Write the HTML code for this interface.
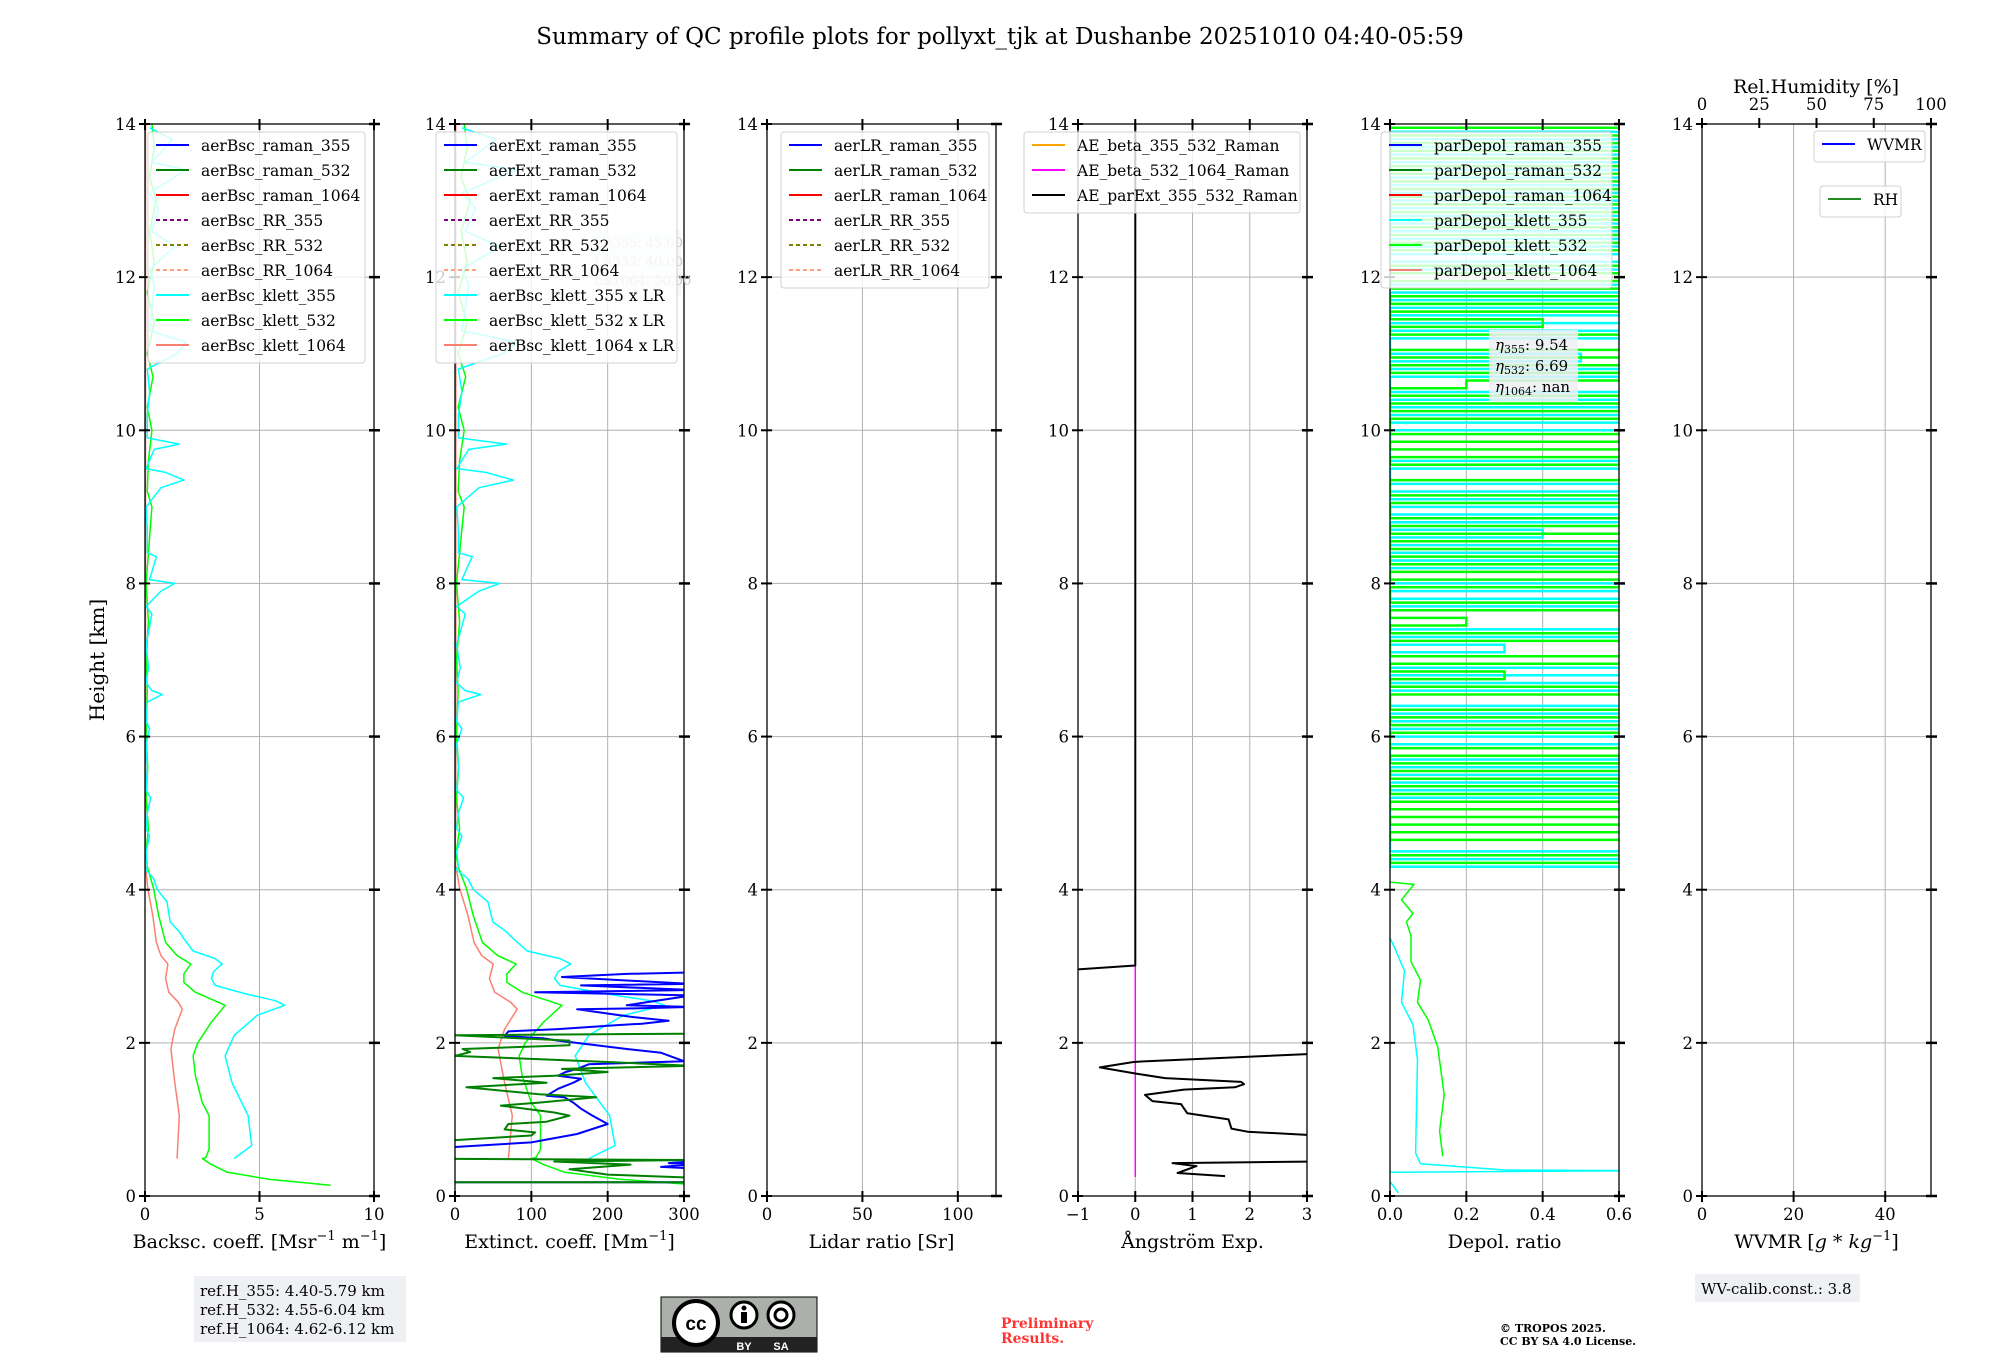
<!DOCTYPE html>
<html><head><meta charset="utf-8"><style>
html,body{margin:0;padding:0;background:#fff;}
svg{display:block;font-family:"DejaVu Serif","Liberation Serif",serif;}
</style></head><body>
<svg id="fig" width="2000" height="1360" viewBox="0 0 2000 1360" xmlns="http://www.w3.org/2000/svg">
<text x="1000" y="44" font-size="23" text-anchor="middle">Summary of QC profile plots for pollyxt_tjk at Dushanbe 20251010 04:40-05:59</text>
<text transform="translate(104,660) rotate(-90)" font-size="20" text-anchor="middle">Height [km]</text>
<g id="panels"></g>
<g>
<rect x="194" y="1276" width="212" height="66" fill="#eef0f4"/>
<text x="200" y="1296" font-size="15">ref.H_355: 4.40-5.79 km</text>
<text x="200" y="1315" font-size="15">ref.H_532: 4.55-6.04 km</text>
<text x="200" y="1334" font-size="15">ref.H_1064: 4.62-6.12 km</text>
</g>
<g>
<rect x="661" y="1297" width="156" height="55" fill="#abb1aa" stroke="#000" stroke-width="1"/>
<rect x="661" y="1337" width="156" height="15" fill="#222"/>
<circle cx="696" cy="1323" r="22" fill="#fff" stroke="#000" stroke-width="4"/>
<text x="696" y="1330" font-size="19" font-weight="bold" text-anchor="middle" font-family="Liberation Sans,sans-serif">cc</text>
<circle cx="744" cy="1315" r="13" fill="#fff" stroke="#000" stroke-width="3"/>
<rect x="741" y="1312" width="6" height="11" fill="#000"/><circle cx="744" cy="1308" r="2.5" fill="#000"/>
<circle cx="781" cy="1315" r="13" fill="#fff" stroke="#000" stroke-width="3"/>
<circle cx="781" cy="1315" r="6" fill="none" stroke="#000" stroke-width="3"/>
<text x="744" y="1350" font-size="11" fill="#fff" text-anchor="middle" font-family="Liberation Sans,sans-serif" font-weight="bold">BY</text>
<text x="781" y="1350" font-size="11" fill="#fff" text-anchor="middle" font-family="Liberation Sans,sans-serif" font-weight="bold">SA</text>
</g>
<g fill="#ff3333" font-size="14" font-weight="bold">
<text x="1001" y="1328">Preliminary</text><text x="1001" y="1343">Results.</text>
</g>
<g font-size="11" font-weight="bold">
<text x="1500" y="1332">© TROPOS 2025.</text><text x="1500" y="1345">CC BY SA 4.0 License.</text>
</g>
<g>
<rect x="1695" y="1274" width="165" height="28" fill="#eef0f4"/>
<text x="1701" y="1294" font-size="15">WV-calib.const.: 3.8</text>
</g>
</svg>
<script>
// ---------- data ----------
const kH355=[0.49,0.66,1.05,1.48,1.83,2.1,2.36,2.49,2.55,2.64,2.75,2.84,2.93,3.03,3.1,3.2,3.36,3.45,3.58,3.84,4.0,4.15,4.26,4.3,4.5,4.7,4.8,5.0,5.2,5.3,5.6,5.9,6.1,6.2,6.45,6.55,6.6,6.7,6.9,7.2,7.6,7.7,7.9,8.0,8.05,8.35,8.4,8.7,9.0,9.25,9.35,9.45,9.5,9.75,9.82,9.9,10.2,10.5,10.8,11.0,11.15,11.3,11.6,11.9,12.1,12.4,12.6,12.9,13.1,13.4,13.5,13.8,13.95];
const kB355=[3.9,4.66,4.5,3.8,3.5,3.9,4.9,6.1,5.7,4.4,3.06,2.9,3.0,3.37,3.06,2.1,1.7,1.5,1.1,0.96,0.54,0.37,0.03,0.1,0.05,0.2,0.05,0.1,0.25,0.05,0.1,0.05,0.2,0.05,0.1,0.75,0.3,0.05,0.15,0.05,0.3,0.05,0.7,1.3,0.2,0.5,0.1,0.1,0.05,0.7,1.7,0.9,0.05,0.4,1.5,0.1,0.1,0.2,0.1,1.4,1.8,0.2,0.3,0.4,0.2,1.3,0.3,0.6,0.2,1.8,0.3,1.2,0.2];
const kH532=[0.14,0.22,0.31,0.41,0.49,0.5,0.61,1.05,1.22,1.57,1.83,2.0,2.27,2.49,2.55,2.66,2.79,2.9,3.03,3.14,3.31,3.66,4.02,4.28,4.45,4.8,5.2,5.6,6.0,6.6,7.0,7.5,8.0,8.6,9.0,9.2,9.6,10.0,10.3,10.7,11.0,11.4,11.8,12.2,12.6,13.0,13.3,13.7,14.0];
const kB532=[8.1,5.4,3.6,2.9,2.5,2.65,2.8,2.8,2.5,2.2,2.1,2.3,2.9,3.5,3.05,2.2,1.7,1.7,2.0,1.4,0.9,0.6,0.37,0.12,0.03,0.15,0.05,0.12,0.05,0.1,0.05,0.15,0.05,0.2,0.3,0.1,0.15,0.3,0.1,0.35,0.1,0.4,0.1,0.4,0.2,0.5,0.2,0.4,0.3];
const kH1064=[0.49,1.05,1.48,1.92,2.18,2.44,2.53,2.66,2.84,3.03,3.14,3.31,3.66,4.02,4.37,5.0,14.0];
const kB1064=[1.4,1.5,1.3,1.13,1.3,1.63,1.46,1.04,0.9,1.0,0.7,0.5,0.34,0.12,0.0,0.02,0.02];
const lr355=45, lr532=40, lr1064=50;
const extH355=[0.18,0.18,null,0.36,0.38,0.41,0.43,0.45,null,0.64,0.70,0.81,0.94,1.05,1.14,1.22,1.29,1.31,1.40,1.48,1.53,1.57,1.62,1.66,1.72,1.76,1.87,1.92,1.97,2.03,2.06,2.09,2.15,2.18,2.23,2.25,2.29,2.34,2.44,2.45,2.47,2.49,2.62,2.66,2.69,2.75,2.77,2.86,2.90,2.92];
const extV355=[0,310,null,310,270,310,280,310,null,0,100,160,200,180,165,155,143,120,135,155,165,135,145,160,175,300,270,225,185,135,115,65,70,135,210,245,280,230,160,235,310,225,310,105,310,165,310,140,225,310];
const extH532=[0.18,0.18,null,0.24,0.28,0.35,0.41,0.45,0.47,0.485,null,0.73,0.79,0.83,0.87,0.94,0.97,1.05,1.09,1.18,1.22,1.29,1.33,1.42,1.48,1.54,1.57,1.62,1.66,1.70,1.75,1.79,1.83,1.88,1.92,1.97,2.03,2.10,2.12];
const extV532=[0,310,null,310,200,150,230,130,310,0,null,0,100,105,65,70,120,150,130,60,110,185,110,15,120,50,130,200,140,310,200,100,0,20,10,150,150,0,310];
const aeH=[14,3.01,2.95,null,1.86,1.76,1.75,1.68,1.6,1.54,1.49,1.46,1.42,1.39,1.32,1.24,1.2,1.08,1.0,0.88,0.84,0.79,null,0.45,0.43,0.39,0.3,0.26];
const aeV=[0,0,-1.2,null,3.2,0.2,-0.03,-0.62,0,0.52,1.85,1.9,1.74,0.85,0.17,0.3,0.8,0.91,1.63,1.68,1.96,3.2,null,3.2,0.65,1.07,0.74,1.57];
const aeBH=[3.0,0.25];
const aeBV=[0,0];
const dpH532=[0.52,0.85,1.32,1.95,2.3,2.53,2.82,3.06,3.4,3.58,3.69,3.87,4.07,4.1];
const dpV532=[0.138,0.13,0.142,0.125,0.1,0.072,0.08,0.055,0.055,0.043,0.06,0.03,0.063,0];
const dpH355=[0.04,0.19,null,0.31,0.33,0.34,0.42,0.56,1.78,2.24,2.53,2.94,3.23,3.37];
const dpV355=[0.022,0,null,0,0.65,0.3,0.08,0.067,0.072,0.06,0.03,0.038,0.013,0];
const dpUpperStart=4.2, dpUpperStep=0.1;
const dpUp355=[0.9,0,0.9,0,0,0,0,0,0,0, 0.9,0,0.9,0,0.9,0,0,0.9,0,0.9, 0,0.9,0,0,0.9,0,0.9,0,0,0.3, 0,0.9,0,0,0,0.9,0,0.9,0,0, 0.9,0,0.9,0,0.4,0,0.9,0,0.9,0, 0.9,0,0,0.9,0,0,0,0,0.9,0, 0.9,0,0.9,0,0,0.9,0,0.5,0,0, 0.9,0,0.9,0,0.9,0,0.9,0,0,0.9, 0,0.9,0,0.9,0,0.9,0,0.9,0,0.9, 0,0.9,0,0.9,0,0.9,0,0.9];
const dpUp532=[0.9,0,0.9,0.9,0,0.9,0,0.9,0,0.9, 0,0.9,0,0.9,0,0.9,0,0,0.9,0, 0.9,0,0,0.9,0,0.3,0,0.9,0,0, 0.9,0,0.2,0,0.9,0,0,0.9,0,0.9, 0,0.9,0,0.9,0,0.9,0,0,0.9,0, 0,0.9,0.9,0,0.9,0,0.9,0,0,0.9, 0,0.9,0,0.2,0.9,0,0.9,0,0.9,0.9, 0,0.4,0,0.9,0,0.9,0,0.9,0,0.9, 0.9,0,0.9,0,0.9,0,0.9,0,0.9,0, 0.9,0,0.9,0,0.9,0,0.9,0];
const yTicks=[0,2,4,6,8,10,12,14];

// ---------- layout ----------
const NS="http://www.w3.org/2000/svg";
const Y0=1196, YT=124, PW=229;
const lefts=[145,455,767,1078,1390,1702];
const panelsG=document.getElementById('panels');
function yS(h){return Y0-h/14*(Y0-YT);}
function el(tag,attrs,parent){const e=document.createElementNS(NS,tag);for(const k in attrs)e.setAttribute(k,attrs[k]);(parent||panelsG).appendChild(e);return e;}
const panels=[
 {xmin:0,xmax:10,ticks:[0,5,10],lab:['0','5','10']},
 {xmin:0,xmax:300,ticks:[0,100,200,300],lab:['0','100','200','300']},
 {xmin:0,xmax:120,ticks:[0,50,100],lab:['0','50','100']},
 {xmin:-1,xmax:3,ticks:[-1,0,1,2,3],lab:['\u22121','0','1','2','3']},
 {xmin:0,xmax:0.6,ticks:[0,0.2,0.4,0.6],lab:['0.0','0.2','0.4','0.6']},
 {xmin:0,xmax:50,ticks:[0,20,40],lab:['0','20','40']}
];
function xS(p,v){const P=panels[p];return lefts[p]+(v-P.xmin)/(P.xmax-P.xmin)*PW;}
const groups=[];
panels.forEach((P,i)=>{
  const g=el('g',{});
  
  
  const cp=el('clipPath',{id:'clip'+i},g);
  el('rect',{x:lefts[i],y:YT,width:PW,height:Y0-YT},cp);
  P.ticks.forEach(t=>{const l=el('line',{x1:xS(i,t),x2:xS(i,t),y1:YT,y2:Y0,stroke:'#b0b0b0','stroke-width':1},g);
    
    });
  yTicks.forEach(t=>{const l=el('line',{x1:lefts[i],x2:lefts[i]+PW,y1:yS(t),y2:yS(t),stroke:'#b0b0b0','stroke-width':1},g);
    
    });
  const dg=el('g',{'clip-path':'url(#clip'+i+')'},g);
  
  
  groups.push({g,dg});
});
function series(p,hs,vs,color,w,name,dash){
  let d='',pen=false;
  for(let k=0;k<hs.length;k++){
    if(hs[k]===null){pen=false;continue;}
    d+=(pen?'L':'M')+xS(p,vs[k]).toFixed(1)+','+yS(hs[k]).toFixed(1);pen=true;
  }
  const a={d:d,fill:'none',stroke:color,'stroke-width':w,'stroke-linejoin':'round'};
  if(dash)a['stroke-dasharray']=dash;
  const e=el('path',a,groups[p].dg);
  
  
}
function stepSeries(p,start,step,vals,color,w,name){
  let d='';
  vals.forEach((v,k)=>{const h0=start+k*step,h1=h0+step;const x=xS(p,Math.min(v,0.7)).toFixed(1);
    d+=(k?'L':'M')+x+','+yS(h0).toFixed(1)+'L'+x+','+yS(h1).toFixed(1);});
  const e=el('path',{d:d,fill:'none',stroke:color,'stroke-width':w},groups[p].dg);
  
  
}
series(0,kH1064,kB1064,'#fa8072',1.5,'line-bsc-klett-1064');
series(0,kH532,kB532,'#00ff00',1.5,'line-bsc-klett-532');
series(0,kH355,kB355,'#00ffff',1.5,'line-bsc-klett-355');
series(1,kH1064,kB1064.map(v=>v*lr1064),'#fa8072',1.5,'line-ext-klett-1064');
series(1,kH532,kB532.map(v=>v*lr532),'#00ff00',1.5,'line-ext-klett-532');
series(1,kH355,kB355.map(v=>v*lr355),'#00ffff',1.5,'line-ext-klett-355');
series(1,extH355,extV355,'#0000ff',2,'line-ext-raman-355');
series(1,extH532,extV532,'#008000',2,'line-ext-raman-532');
series(3,aeBH,aeBV,'#ff00ff',1.5,'line-ae-beta-532-1064');
series(3,aeH,aeV,'#000000',2,'line-ae-parext-355-532');
stepSeries(4,dpUpperStart,dpUpperStep,dpUp355,'#00ffff',2.5,'line-depol-klett-355-upper');
stepSeries(4,dpUpperStart+0.05,dpUpperStep,dpUp532,'#00ff00',2.5,'line-depol-klett-532-upper');
series(4,dpH355,dpV355,'#00ffff',1.5,'line-depol-klett-355');
series(4,dpH532,dpV532,'#00ff00',1.5,'line-depol-klett-532');

// x-axis titles: parts: string = normal, {sup} = superscript, {it} = italic
const xlabels=[
 ['Backsc. coeff. [Msr',{sup:'\u22121'},' m',{sup:'\u22121'},']'],
 ['Extinct. coeff. [Mm',{sup:'\u22121'},']'],
 ['Lidar ratio [Sr]'],
 ['\u00c5ngstr\u00f6m Exp.'],
 ['Depol. ratio'],
 ['WVMR [',{it:'g * kg'},{sup:'\u22121'},']']
];
panels.forEach((P,i)=>{
  const g=groups[i].g, L=lefts[i], R=L+PW;
  const fr=el('rect',{x:L,y:YT,width:PW,height:Y0-YT,fill:'none',stroke:'#000','stroke-width':1.3},g);
  
  
  P.ticks.forEach((t,k)=>{const x=xS(i,t);
    el('line',{x1:x,x2:x,y1:Y0-5,y2:Y0+6,stroke:'#000','stroke-width':2},g);
    if(i!==5) el('line',{x1:x,x2:x,y1:YT-5,y2:YT+6,stroke:'#000','stroke-width':2},g);
    const tx=el('text',{x:x,y:1220,'font-size':16.5,'text-anchor':'middle'},g);tx.textContent=P.lab[k];
    
    });
  yTicks.forEach(t=>{const y=yS(t);
    el('line',{x1:L-6,x2:L+5,y1:y,y2:y,stroke:'#000','stroke-width':2},g);
    el('line',{x1:R-5,x2:R+6,y1:y,y2:y,stroke:'#000','stroke-width':2.5},g);
    const tx=el('text',{x:L-9,y:y+6,'font-size':16.5,'text-anchor':'end'},g);tx.textContent=String(t);
    
    });
  const xl=el('text',{x:L+PW/2,y:1248,'font-size':19,'text-anchor':'middle'},g);
  
  
  let raised=false;
  xlabels[i].forEach(part=>{const ts=document.createElementNS(NS,'tspan');
    if(typeof part==='string'){ts.textContent=part;if(raised){ts.setAttribute('dy','8');raised=false;}}
    else if(part.it){ts.textContent=part.it;ts.setAttribute('font-style','italic');if(raised){ts.setAttribute('dy','8');raised=false;}}
    else{ts.textContent=part.sup;ts.setAttribute('font-size','13');ts.setAttribute('dy','-8');raised=true;}
    xl.appendChild(ts);});
});
(function(){const g=groups[5].g;const L=lefts[5];
  [0,25,50,75,100].forEach(v=>{const x=L+v/100*PW;
    el('line',{x1:x,x2:x,y1:YT-6,y2:YT+4,stroke:'#000','stroke-width':2},g);
    const t=el('text',{x:x,y:110,'font-size':16.5,'text-anchor':'middle'},g);t.textContent=String(v);
    
    });
  const t=el('text',{x:1816,y:93,'font-size':19,'text-anchor':'middle'},g);t.textContent='Rel.Humidity [%]';
  
  
})();
function legend(p,x,y,w,rows,name){
  const g=el('g',{},groups[p].g);
  
  
  el('rect',{x:x,y:y,width:w,height:rows.length*25+6,rx:3,fill:'#fff','fill-opacity':0.8,stroke:'#d0d0d0'},g);
  rows.forEach((r,k)=>{const cy=y+13+k*25;
    const a={x1:x+8,x2:x+41,y1:cy,y2:cy,stroke:r[1],'stroke-width':2};if(r[2])a['stroke-dasharray']='4,3';
    el('line',a,g);
    const t=el('text',{x:x+53,y:cy+6,'font-size':15.5},g);t.textContent=r[0];
    
    });
}
legend(0,148,132,217,[['aerBsc_raman_355','#0000ff'],['aerBsc_raman_532','#008000'],['aerBsc_raman_1064','#ff0000'],['aerBsc_RR_355','#800080',1],['aerBsc_RR_532','#808000',1],['aerBsc_RR_1064','#ffa07a',1],['aerBsc_klett_355','#00ffff'],['aerBsc_klett_532','#00ff00'],['aerBsc_klett_1064','#fa8072']],'legend-backscatter');
(function(){const g=el('g',{},groups[1].g);
  
  
  el('rect',{x:590,y:230,width:91,height:65,fill:'#eef0f4','fill-opacity':0.5},g);
  ['LR355: 45.00','LR532: 40.00','LR1064: 50.00'].forEach((s,k)=>{const t=el('text',{x:594,y:247+k*19,'font-size':13,fill:'#c8c8c8'},g);t.textContent=s;});
})();
legend(1,436,132,241,[['aerExt_raman_355','#0000ff'],['aerExt_raman_532','#008000'],['aerExt_raman_1064','#ff0000'],['aerExt_RR_355','#800080',1],['aerExt_RR_532','#808000',1],['aerExt_RR_1064','#ffa07a',1],['aerBsc_klett_355 x LR','#00ffff'],['aerBsc_klett_532 x LR','#00ff00'],['aerBsc_klett_1064 x LR','#fa8072']],'legend-extinction');
legend(2,781,132,208,[['aerLR_raman_355','#0000ff'],['aerLR_raman_532','#008000'],['aerLR_raman_1064','#ff0000'],['aerLR_RR_355','#800080',1],['aerLR_RR_532','#808000',1],['aerLR_RR_1064','#ffa07a',1]],'legend-lidar-ratio');
legend(3,1024,132,276,[['AE_beta_355_532_Raman','#ffa500'],['AE_beta_532_1064_Raman','#ff00ff'],['AE_parExt_355_532_Raman','#000000']],'legend-angstrom');
legend(4,1381,132,231,[['parDepol_raman_355','#0000ff'],['parDepol_raman_532','#008000'],['parDepol_raman_1064','#ff0000'],['parDepol_klett_355','#00ffff'],['parDepol_klett_532','#00ff00'],['parDepol_klett_1064','#fa8072']],'legend-depol');
(function(){const g=el('g',{},groups[4].g);
  
  
  el('rect',{x:1489,y:330,width:89,height:72,fill:'#eef0f4','fill-opacity':0.85},g);
  [['355','9.54'],['532','6.69'],['1064','nan']].forEach((r,k)=>{const t=el('text',{x:1495,y:350+k*21,'font-size':15},g);
    const a=document.createElementNS(NS,'tspan');a.setAttribute('font-style','italic');a.textContent='\u03b7';t.appendChild(a);
    const b=document.createElementNS(NS,'tspan');b.setAttribute('font-size','11');b.setAttribute('dy','3');b.textContent=r[0];t.appendChild(b);
    const c=document.createElementNS(NS,'tspan');c.setAttribute('dy','-3');c.textContent=': '+r[1];t.appendChild(c);});
})();
legend(5,1814,131,111,[['WVMR','#0000ff']],'legend-wvmr');
legend(5,1820,186,81,[['RH','#228b22']],'legend-rh');
</script>
</body></html>
